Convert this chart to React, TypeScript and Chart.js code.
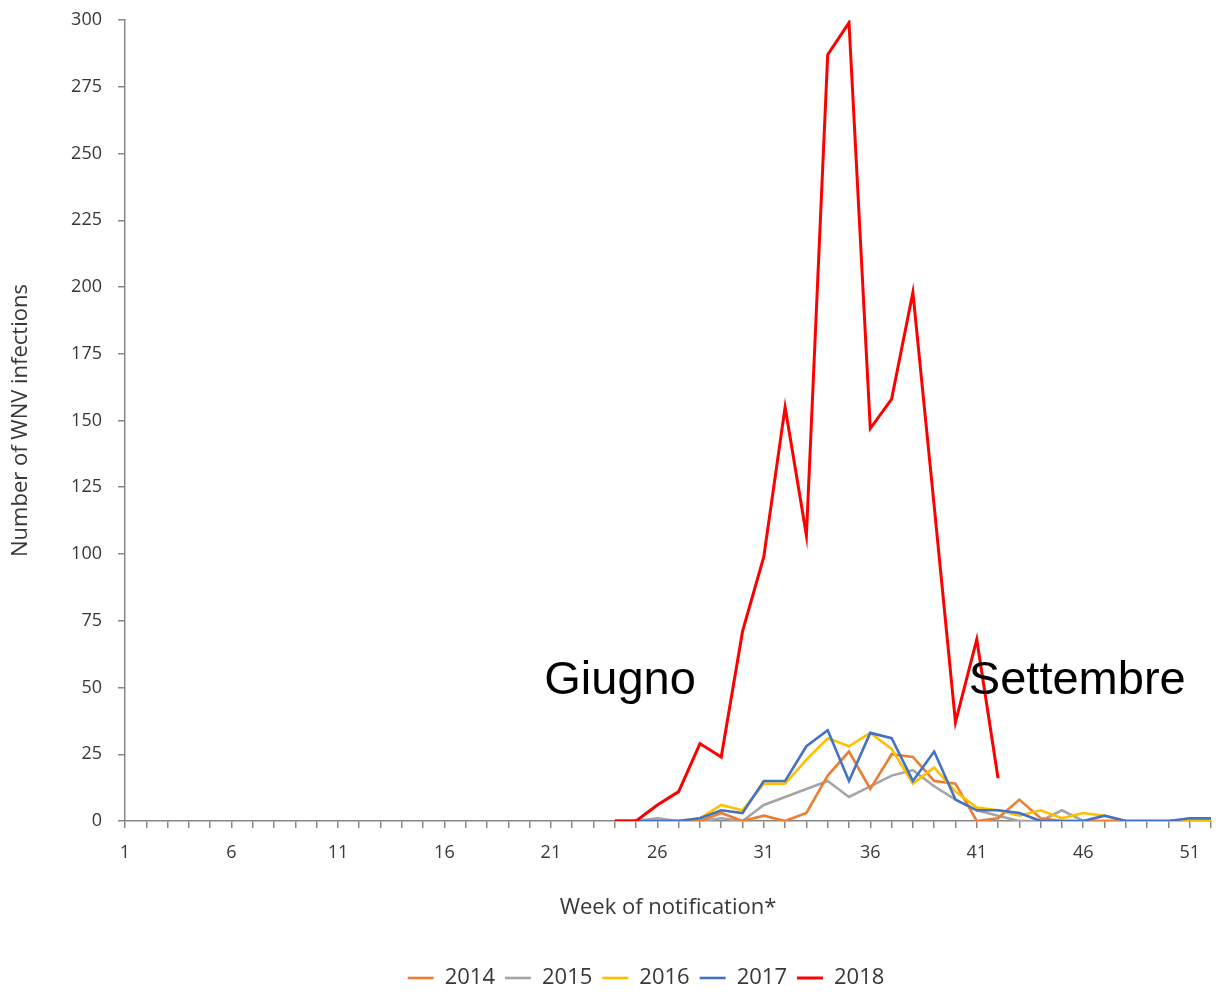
import React, { useEffect, useRef } from 'react';
import { Chart, registerables } from 'chart.js';

Chart.register(...registerables);

const N = null;

const weekLabels = [
  '1', '2', '3', '4', '5', '6', '7', '8', '9', '10',
  '11', '12', '13', '14', '15', '16', '17', '18', '19', '20',
  '21', '22', '23', '24', '25', '26', '27', '28', '29', '30',
  '31', '32', '33', '34', '35', '36', '37', '38', '39', '40',
  '41', '42', '43', '44', '45', '46', '47', '48', '49', '50',
  '51', '52',
];

const shownWeekLabels = ['1', '6', '11', '16', '21', '26', '31', '36', '41', '46', '51'];

const seriesNames = ['2014', '2015', '2016', '2017', '2018'];
const seriesColors = ['#ED7D31', '#A5A5A5', '#FFC000', '#4472C4', '#FF0000'];

// weeks 1..23 empty, then weeks 24..52
const cases2014 = [
  N, N, N, N, N, N, N, N, N, N, N, N, N, N, N, N, N, N, N, N, N, N, N,
  0, 0, 0, 0, 0, 3, 0, 2, 0, 3, 17, 26, 12, 25, 24, 15, 14, 0, 1, 8, 1, 0, 0, 0, 0, 0, 0, 0, 0,
];
const cases2015 = [
  N, N, N, N, N, N, N, N, N, N, N, N, N, N, N, N, N, N, N, N, N, N, N,
  0, 0, 1, 0, 0, 1, 0, 6, 9, 12, 15, 9, 13, 17, 19, 13, 8, 4, 2, 0, 0, 4, 0, 0, 0, 0, 0, 0, 0,
];
const cases2016 = [
  N, N, N, N, N, N, N, N, N, N, N, N, N, N, N, N, N, N, N, N, N, N, N,
  0, 0, 0, 0, 1, 6, 4, 14, 14, 23, 31, 28, 33, 27, 14, 20, 11, 5, 4, 2, 4, 1, 3, 2, 0, 0, 0, 0, 0,
];
const cases2017 = [
  N, N, N, N, N, N, N, N, N, N, N, N, N, N, N, N, N, N, N, N, N, N, N,
  0, 0, 0, 0, 1, 4, 3, 15, 15, 28, 34, 15, 33, 31, 15, 26, 8, 4, 4, 3, 0, 0, 0, 2, 0, 0, 0, 1, 1,
];
const cases2018 = [
  N, N, N, N, N, N, N, N, N, N, N, N, N, N, N, N, N, N, N, N, N, N, N,
  0, 0, 6, 11, 29, 24, 71, 99, 155, 107, 287, 299, 147, 158, 198, 118, 37, 68, 16,
  N, N, N, N, N, N, N, N, N, N,
];

const annotationTexts = ['Giugno', 'Settembre'];
const annotationWeeks = [24.25, 45.72];
const annotationValues = [47.6, 47.6];

const tickFont = { family: 'Open Sans', size: 18 };
const titleFont = { family: 'Open Sans', size: 22 };
const textColor = '#383838';
const axisColor = '#878787';

const annotationPlugin = {
  id: 'monthAnnotations',
  afterDatasetsDraw(chart: any) {
    const { ctx, scales } = chart;
    const xs = scales.x;
    const ys = scales.y;
    const x0 = xs.getPixelForValue(0);
    const x1 = xs.getPixelForValue(weekLabels.length - 1);
    ctx.save();
    ctx.font = '47px "Liberation Sans", Arial, sans-serif';
    ctx.fillStyle = '#000000';
    ctx.textAlign = 'center';
    ctx.textBaseline = 'alphabetic';
    annotationTexts.forEach((t, i) => {
      const px = x0 + ((annotationWeeks[i] - 1) / (weekLabels.length - 1)) * (x1 - x0);
      const py = ys.getPixelForValue(annotationValues[i]);
      ctx.fillText(t, px, py);
    });
    ctx.restore();
  },
};

const legendShiftPlugin = {
  id: 'legendShift',
  afterLayout(chart: any) {
    const lg = chart.legend;
    if (!lg) return;
    lg.left -= 22;
    lg.right -= 22;
    lg.top += 5;
    lg.bottom += 5;
  },
};

export default function App() {
  const ref = useRef<HTMLCanvasElement>(null);

  useEffect(() => {
    const seriesData = [cases2014, cases2015, cases2016, cases2017, cases2018];
    const drawOrder = [3, 4, 2, 1, 0];
    const chart = new Chart(ref.current as HTMLCanvasElement, {
      type: 'line',
      data: {
        labels: weekLabels,
        datasets: seriesNames.map((name, i) => ({
          label: name,
          data: seriesData[i],
          borderColor: seriesColors[i],
          backgroundColor: seriesColors[i],
          borderWidth: i === 4 ? 3 : 2.6,
          pointRadius: 0,
          pointHoverRadius: 0,
          pointStyle: 'line',
          tension: 0,
          fill: false,
          order: drawOrder[i],
        })),
      },
      options: {
        animation: false,
        responsive: true,
        maintainAspectRatio: false,
        layout: { padding: { top: 20, right: 9, left: 0, bottom: 0 } },
        plugins: {
          legend: {
            position: 'bottom',
            fullSize: false,
            labels: {
              usePointStyle: true,
              pointStyleWidth: 26,
              padding: 10,
              color: textColor,
              font: { family: 'Open Sans', size: 22 },
              sort: (a: any, b: any) => a.datasetIndex - b.datasetIndex,
            },
          },
          tooltip: { enabled: false },
        },
        scales: {
          x: {
            type: 'category',
            grid: {
              drawOnChartArea: false,
              drawTicks: true,
              tickLength: 7,
              color: axisColor,
              lineWidth: 1.5,
            },
            border: { color: axisColor, width: 1.5 },
            ticks: {
              autoSkip: false,
              maxRotation: 0,
              minRotation: 0,
              padding: 14,
              color: textColor,
              font: tickFont,
              callback: (_v: any, index: number) => {
                const l = weekLabels[index];
                return shownWeekLabels.includes(l) ? l : '';
              },
            },
            title: {
              display: true,
              text: 'Week of notification*',
              color: textColor,
              font: titleFont,
              padding: { top: 0, bottom: 31 },
            },
            afterFit: (s: any) => {
              s.height = 131;
              s.paddingLeft = 0;
              s.paddingRight = 0;
            },
          },
          y: {
            min: 0,
            max: 300,
            grid: {
              drawOnChartArea: false,
              drawTicks: true,
              tickLength: 7,
              color: axisColor,
              lineWidth: 1.5,
            },
            border: { color: axisColor, width: 1.5 },
            ticks: {
              stepSize: 25,
              padding: 16,
              color: textColor,
              font: tickFont,
            },
            title: {
              display: true,
              text: 'Number of WNV infections',
              color: textColor,
              font: titleFont,
              padding: { top: 8, bottom: 0 },
            },
            afterFit: (s: any) => {
              s.width = 125;
              s.paddingTop = 0;
              s.paddingBottom = 0;
            },
          },
        },
      },
      plugins: [annotationPlugin, legendShiftPlugin],
    } as any);
    return () => chart.destroy();
  }, []);

  return (
    <div style={{ position: 'absolute', left: 0, top: 0, width: 1220, height: 994 }}>
      <canvas ref={ref} />
    </div>
  );
}
